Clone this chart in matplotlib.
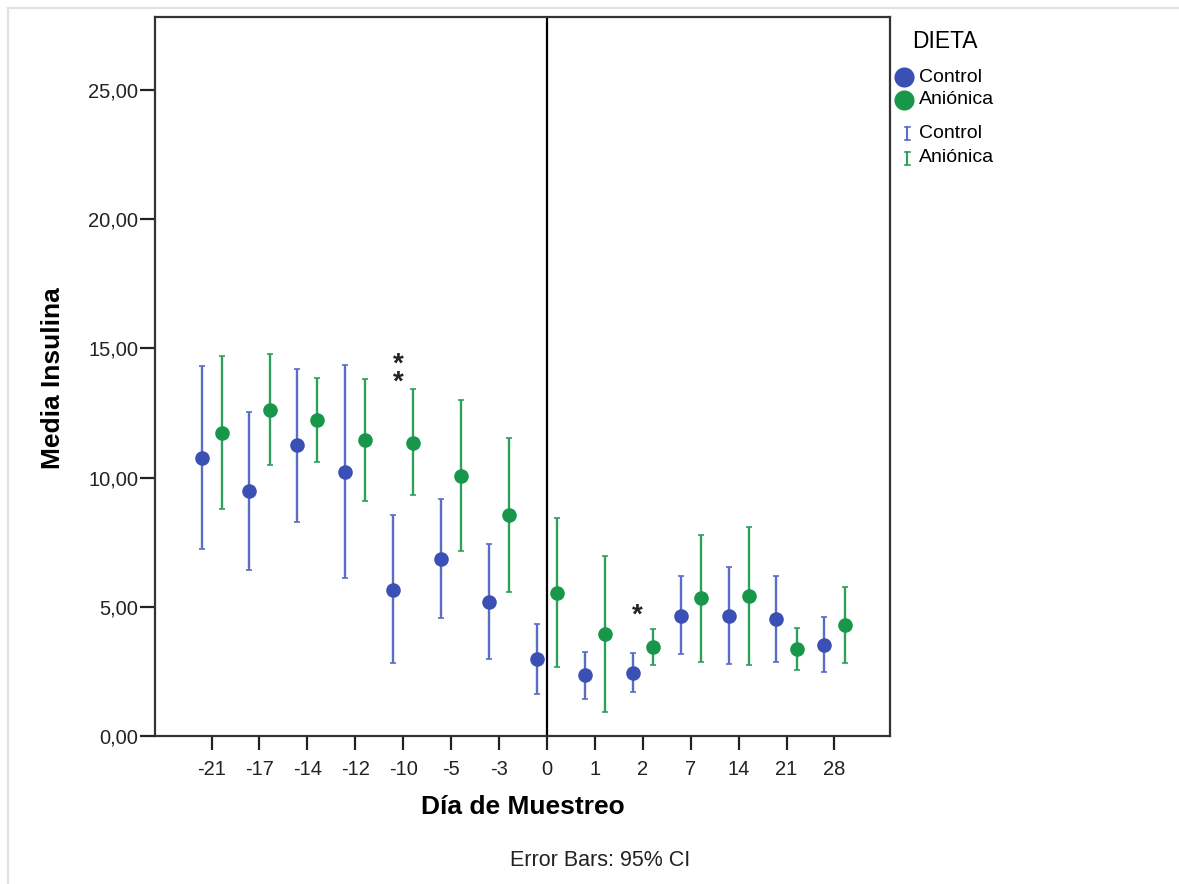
import matplotlib
matplotlib.use("Agg")
import matplotlib.pyplot as plt
from matplotlib.lines import Line2D
import numpy as np

plt.rcParams['font.family'] = ['Liberation Sans', 'DejaVu Sans']

# ---- data ----
dias = ['-21', '-17', '-14', '-12', '-10', '-5', '-3', '0', '1', '2', '7', '14', '21', '28']
control_mean = [10.77, 9.48, 11.25, 10.23, 5.66, 6.86, 5.19, 2.97, 2.35, 2.45, 4.64, 4.66, 4.54, 3.53]
control_low  = [7.24, 6.42, 8.28, 6.11, 2.81, 4.58, 2.98, 1.63, 1.44, 1.69, 3.16, 2.77, 2.88, 2.49]
control_high = [14.33, 12.56, 14.22, 14.37, 8.54, 9.16, 7.42, 4.35, 3.26, 3.21, 6.19, 6.55, 6.20, 4.59]
anionica_mean = [11.74, 12.63, 12.22, 11.44, 11.35, 10.07, 8.55, 5.52, 3.93, 3.43, 5.33, 5.41, 3.37, 4.30]
anionica_low  = [8.78, 10.49, 10.59, 9.09, 9.34, 7.15, 5.57, 2.66, 0.92, 2.76, 2.88, 2.76, 2.57, 2.84]
anionica_high = [14.71, 14.78, 13.84, 13.82, 13.42, 13.00, 11.55, 8.42, 6.97, 4.13, 7.78, 8.08, 4.19, 5.78]
yticks = [0, 5, 10, 15, 20, 25]
ytick_labels = ['0,00', '5,00', '10,00', '15,00', '20,00', '25,00']
# significance marks: (day label, value, text)
sig_marks = [('-10', 14.26, '*\n*'), ('2', 4.88, '*')]

blue_m = '#3B50B4'
blue_l = '#5B6CC4'
green_m = '#18964A'
green_l = '#2FA05C'

fig = plt.figure(figsize=(11.79, 8.84), dpi=100)
ax = fig.add_axes([0.1315, 0.1674, 0.6234, 0.8134])

x = np.arange(len(dias))
off = 0.21
cm = np.array(control_mean); am = np.array(anionica_mean)
cerr = [cm - np.array(control_low), np.array(control_high) - cm]
aerr = [am - np.array(anionica_low), np.array(anionica_high) - am]

ax.errorbar(x - off, cm, yerr=cerr, fmt='none', ecolor=blue_l, elinewidth=1.7,
            capsize=2.4, capthick=1.2, zorder=2)
ax.errorbar(x + off, am, yerr=aerr, fmt='none', ecolor=green_l, elinewidth=1.7,
            capsize=2.4, capthick=1.2, zorder=2)
ax.plot(x - off, cm, 'o', color=blue_m, markersize=10.5, markeredgewidth=0, zorder=3)
ax.plot(x + off, am, 'o', color=green_m, markersize=10.5, markeredgewidth=0, zorder=3)

ax.axvline(dias.index('0'), color='black', linewidth=1.6, zorder=1)

for d, v, t in sig_marks:
    i = dias.index(d)
    ax.annotate(t, xy=(i - 0.11, v), xytext=(0, -4), textcoords='offset points',
                ha='center', va='center', fontsize=20, fontweight='bold',
                color='#222222', linespacing=0.6)

ax.set_xlim(-1.18, 14.16)
ax.set_ylim(0, 27.83)
ax.set_xticks(x)
ax.set_xticklabels(dias)
ax.set_yticks(yticks)
ax.set_yticklabels(ytick_labels)
ax.tick_params(axis='both', labelsize=14.5, colors='#222222', width=1.6)
ax.tick_params(axis='y', length=11, pad=1)
ax.tick_params(axis='x', length=10, pad=7)
for s in ax.spines.values():
    s.set_color('#333333')
    s.set_linewidth(1.6)

ax.set_xlabel('Día de Muestreo', fontsize=19, fontweight='bold', labelpad=12)
fig.text(0.045, 1 - 378 / 884, 'Media Insulina', rotation=90, fontsize=19, fontweight='bold',
         ha='center', va='center')

fig.text(600 / 1179, 1 - 861 / 884, 'Error Bars: 95% CI', fontsize=15.5, ha='center',
         va='center', color='#222222')

# legend (manual, figure coords)
W, H = 1179, 884
def fx(px): return px / W
def fy(py): return 1 - py / H
fig.text(fx(912), fy(42), 'DIETA', fontsize=16.5, ha='left', va='center')
for py, col, lab in [(77, blue_m, 'Control'), (100, green_m, 'Aniónica')]:
    fig.add_artist(Line2D([fx(904)], [fy(py)], marker='o', color=col, markersize=14.5,
                          markeredgewidth=0, linestyle='none'))
    fig.text(fx(919), fy(py), lab, fontsize=14, ha='left', va='center')
for py, col, lab in [(133, blue_l, 'Control'), (158, green_l, 'Aniónica')]:
    fig.add_artist(Line2D([fx(907), fx(907)], [fy(py - 6.5), fy(py + 6.5)], color=col, linewidth=1.5))
    for cy in (py - 6.5, py + 6.5):
        fig.add_artist(Line2D([fx(904.5), fx(909.5)], [fy(cy), fy(cy)], color=col, linewidth=1.2))
    fig.text(fx(919), fy(py), lab, fontsize=14, ha='left', va='center')

# light frame lines (top and left)
fig.add_artist(Line2D([fx(8), 1.0], [fy(8), fy(8)], color='#E2E2E2', linewidth=1.6))
fig.add_artist(Line2D([fx(8), fx(8)], [fy(8), 0.0], color='#E2E2E2', linewidth=1.6))

fig.savefig('out.png', dpi=100)
